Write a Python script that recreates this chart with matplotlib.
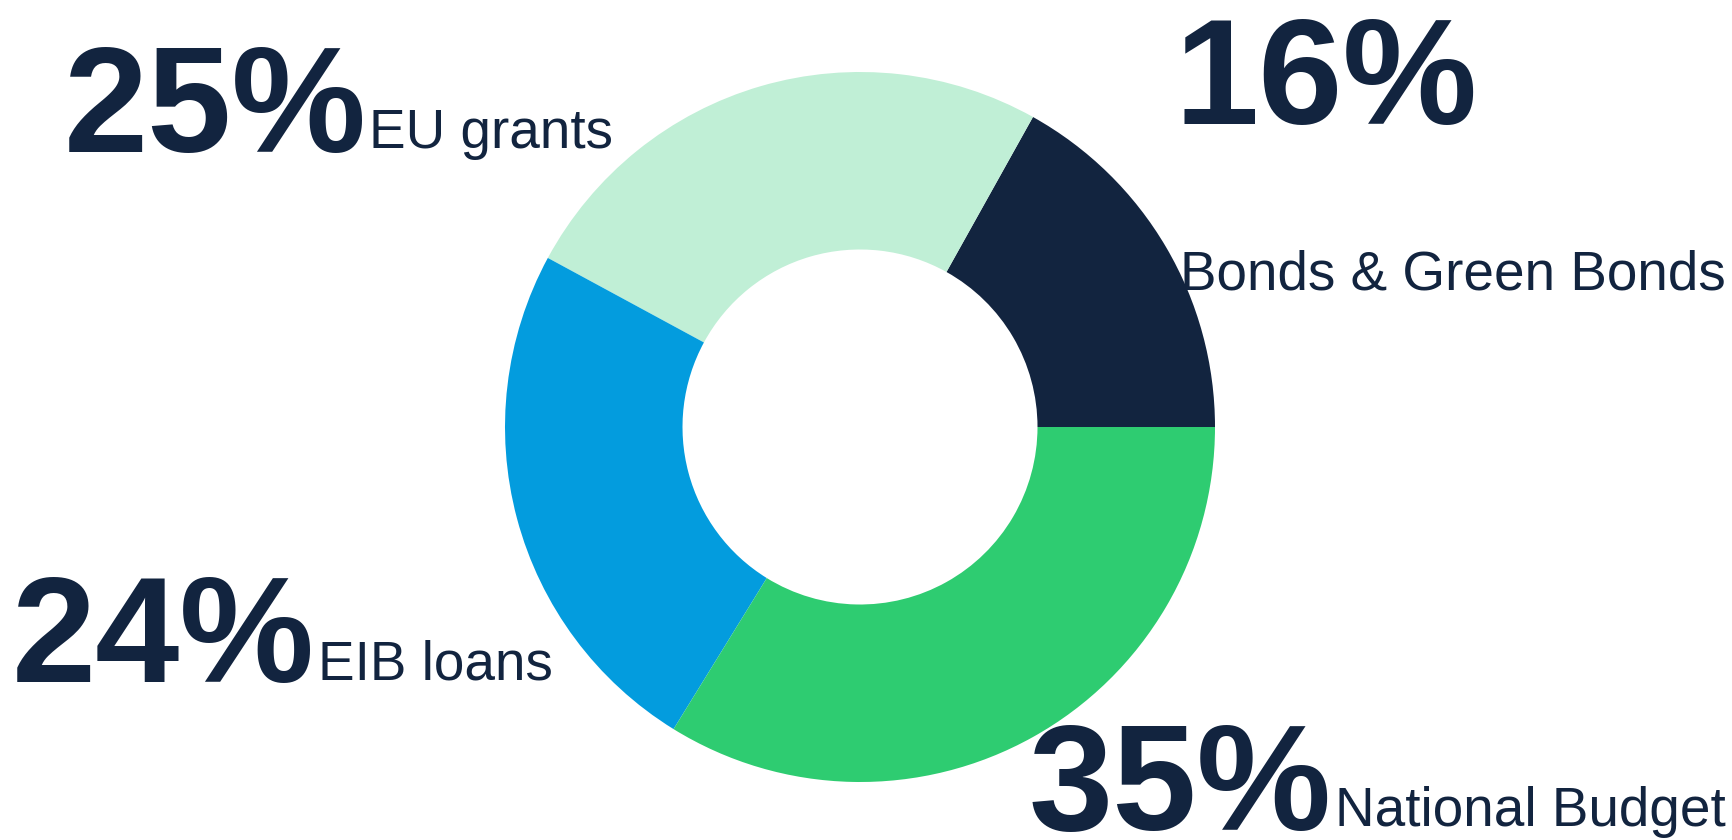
"""Donut chart: financing sources (Bonds, EU grants, EIB loans, National Budget)."""

import matplotlib.pyplot as plt

NAVY = "#12243f"
MINT = "#c0efd6"
BLUE = "#039cde"
GREEN = "#2ecc71"

W, H = 1732, 840

# wedge shares as drawn (counter-clockwise from 3 o'clock)
sources = ["Bonds & Green Bonds", "EU grants", "EIB loans", "National Budget"]
shares = [16.9, 25.2, 24.1, 33.8]
pct_labels = ["16%", "25%", "24%", "35%"]
colors = [NAVY, MINT, BLUE, GREEN]

plt.rcParams["font.family"] = ["Liberation Sans", "DejaVu Sans"]


def main():
    fig = plt.figure(figsize=(W / 100, H / 100), dpi=100)
    ax = fig.add_axes([0, 0, 1, 1])

    cx, cy, r = 860, H - 427, 355
    ax.pie(shares, colors=colors, startangle=0, counterclock=True,
           center=(cx, cy), radius=r,
           wedgeprops=dict(width=r * 0.5, linewidth=0))

    ax.set_xlim(0, W)
    ax.set_ylim(0, H)
    ax.set_aspect("equal")
    ax.axis("off")

    big = dict(fontsize=109, fontweight="bold", color=NAVY, va="baseline", ha="left")
    small = dict(fontsize=39.5, color=NAVY, va="baseline", ha="left")

    # (pct x, pct baseline, label x, label baseline) in pixel coords from the top
    spots = [
        (1174, 124, 1180, 290),  # bonds
        (64, 152, 369, 148),     # EU grants
        (12, 682, 318, 679),     # EIB loans
        (1028, 830, 1335, 826),  # national budget
    ]
    for (px, py, lx, ly), pct, name in zip(spots, pct_labels, sources):
        ax.text(px, H - py, pct, **big)
        ax.text(lx, H - ly, name, **small)

    fig.savefig("out.png", dpi=100, facecolor="white")
    plt.close(fig)


if __name__ == "__main__":
    main()
